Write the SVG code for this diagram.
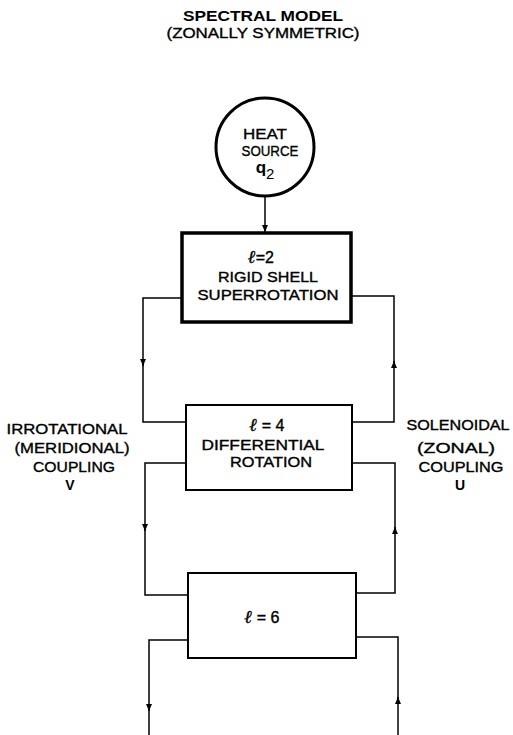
<svg xmlns="http://www.w3.org/2000/svg" width="513" height="735" viewBox="0 0 513 735">
<style>
  text { font-family: "Liberation Sans", Arial, "DejaVu Sans", sans-serif; fill: #000; text-anchor: middle; }
  .t { font-size: 14px; stroke: #000; stroke-width: 0.35; }
  .c { font-size: 15px; stroke: #000; stroke-width: 0.35; }
  .title { font-size: 15px; font-weight: bold; }
  .b { font-size: 14px; font-weight: bold; }
  .eq { font-size: 16px; stroke: #000; stroke-width: 0.35; }
  .ell { font-family: "DejaVu Serif", "Liberation Serif", serif; font-style: italic; font-weight: bold; font-size: 18px; }
  .box { fill: #fff; stroke: #000; stroke-width: 2; }
  .thick { stroke-width: 3.5; }
  .conn path { fill: none; stroke: #000; stroke-width: 1.5; }
</style>
<defs>
  <marker id="arr" markerUnits="userSpaceOnUse" markerWidth="8" markerHeight="6" refX="7" refY="3" orient="auto">
    <path d="M0,0 L7,3 L0,6 z" fill="#000"/>
  </marker>
</defs>
<rect width="513" height="735" fill="#fff"/>

<g id="title">
  <text class="title" x="263" y="21" textLength="160" lengthAdjust="spacingAndGlyphs">SPECTRAL MODEL</text>
  <text class="t" x="263" y="38" textLength="193" lengthAdjust="spacingAndGlyphs">(ZONALLY SYMMETRIC)</text>
</g>

<g class="conn" id="connectors">
  <path d="M265,196 V232" marker-end="url(#arr)"/>
  <path d="M182,298 H143 V366" marker-end="url(#arr)"/>
  <path d="M143,364 V422 H186"/>
  <path d="M352,422 H394 V361" marker-end="url(#arr)"/>
  <path d="M394,363 V296 H351"/>
  <path d="M186,463 H145 V531" marker-end="url(#arr)"/>
  <path d="M145,529 V595 H188"/>
  <path d="M356,593 H395 V527" marker-end="url(#arr)"/>
  <path d="M395,529 V463 H352"/>
  <path d="M188,640 H149 V711" marker-end="url(#arr)"/>
  <path d="M149,709 V735"/>
  <path d="M398,735 V697" marker-end="url(#arr)"/>
  <path d="M398,699 V637 H356"/>
</g>

<g id="heat-source">
  <circle cx="265" cy="147" r="49" fill="#fff" stroke="#000" stroke-width="3"/>
  <text class="c" x="265" y="139" textLength="44" lengthAdjust="spacingAndGlyphs">HEAT</text>
  <text class="c" x="270" y="156" textLength="57" lengthAdjust="spacingAndGlyphs">SOURCE</text>
  <text class="b" x="265" y="173" style="font-size:17px">q<tspan dy="6" style="font-size:15px;font-weight:normal">2</tspan></text>
</g>

<g id="l2">
  <rect class="box thick" x="182" y="233" width="169" height="89"/>
  <text class="eq" x="261" y="263"><tspan class="ell">ℓ</tspan>=2</text>
  <text class="t" x="268" y="282" textLength="100" lengthAdjust="spacingAndGlyphs">RIGID SHELL</text>
  <text class="t" x="268" y="300" textLength="141" lengthAdjust="spacingAndGlyphs">SUPERROTATION</text>
</g>

<g id="l4">
  <rect class="box" x="186" y="405" width="166" height="85"/>
  <text class="eq" x="267" y="431"><tspan class="ell">ℓ</tspan> = 4</text>
  <text class="t" x="263" y="450" textLength="123" lengthAdjust="spacingAndGlyphs">DIFFERENTIAL</text>
  <text class="t" x="271" y="467" textLength="82" lengthAdjust="spacingAndGlyphs">ROTATION</text>
</g>

<g id="l6">
  <rect class="box" x="188" y="573" width="168" height="85"/>
  <text class="eq" x="262" y="623"><tspan class="ell">ℓ</tspan> = 6</text>
</g>

<g id="label-v">
  <text class="t" x="67" y="434" textLength="121" lengthAdjust="spacingAndGlyphs">IRROTATIONAL</text>
  <text class="t" x="72" y="453" textLength="115" lengthAdjust="spacingAndGlyphs">(MERIDIONAL)</text>
  <text class="t" x="74" y="472" textLength="82" lengthAdjust="spacingAndGlyphs">COUPLING</text>
  <text class="b" x="70" y="490">V</text>
</g>

<g id="label-u">
  <text class="t" x="458" y="430" textLength="103" lengthAdjust="spacingAndGlyphs">SOLENOIDAL</text>
  <text class="t" x="456" y="453" textLength="78" lengthAdjust="spacingAndGlyphs">(ZONAL)</text>
  <text class="t" x="461" y="472" textLength="85" lengthAdjust="spacingAndGlyphs">COUPLING</text>
  <text class="b" x="460" y="490">U</text>
</g>
</svg>
